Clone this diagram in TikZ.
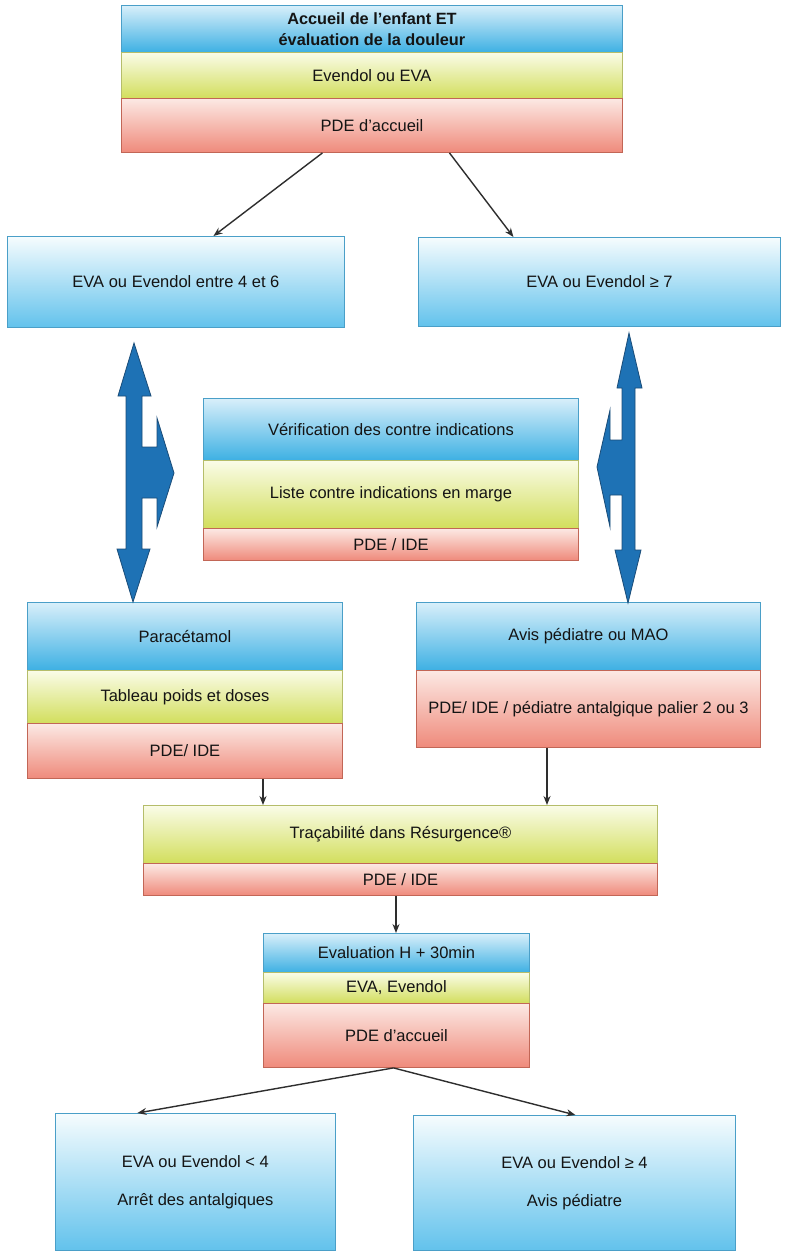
\documentclass[tikz,border=0pt]{standalone}
\usepackage{fontspec}
\setmainfont{Liberation Sans}
\usetikzlibrary{arrows.meta}
\definecolor{blueT}{HTML}{D8EFFA}
\definecolor{blueB}{HTML}{3DB0E3}
\definecolor{boxT}{HTML}{F6FCFE}
\definecolor{boxB}{HTML}{62C2EC}
\definecolor{greenT}{HTML}{FAFCE8}
\definecolor{greenB}{HTML}{D2DE5C}
\definecolor{redT}{HTML}{FCE9E4}
\definecolor{redB}{HTML}{EF8A7B}
\definecolor{blueBd}{HTML}{4A9FC8}
\definecolor{greenBd}{HTML}{B5BD6A}
\definecolor{redBd}{HTML}{C26656}
\definecolor{arrFill}{HTML}{1E72B5}
\definecolor{arrDraw}{HTML}{1A4C78}
\definecolor{lineC}{HTML}{2E2E2E}
\tikzset{
  band/.style={rectangle, anchor=north west, inner sep=0pt, align=center,
    font=\fontsize{16.5}{20}\selectfont, text=black!92, line width=0.9pt},
  bluebandst/.style={band, draw=blueBd, top color=blueT, bottom color=blueB},
  greenbandst/.style={band, draw=greenBd, top color=greenT, bottom color=greenB},
  redbandst/.style={band, draw=redBd, top color=redT, bottom color=redB},
  boxst/.style={band, draw=blueBd, top color=boxT, bottom color=boxB},
  conn/.style={draw=lineC, line width=1.4pt, -{Stealth[length=9pt,width=7pt]}},
  bigarrow/.style={fill=arrFill, draw=arrDraw, line width=0.8pt, line join=miter}
}
\begin{document}
\begin{tikzpicture}[x=1pt,y=-1pt]
\useasboundingbox (0,0) rectangle (790,1253);
\fill[white] (0,0) rectangle (790,1253);

% top stack
\node[bluebandst, minimum width=501pt, minimum height=47pt, font=\bfseries\fontsize{16.3}{20.5}\selectfont] (t1) at (121,5) {Accueil de l’enfant ET\\évaluation de la douleur};
\node[greenbandst, minimum width=501pt, minimum height=46pt] (t2) at (121,52) {Evendol ou EVA};
\node[redbandst, minimum width=501pt, minimum height=54pt] (t3) at (121,98) {PDE d’accueil};

% level 2 boxes
\node[boxst, minimum width=337pt, minimum height=91pt] (l1) at (7,236) {EVA ou Evendol entre 4 et 6};
\node[boxst, minimum width=362pt, minimum height=89pt] (r1) at (418,237) {EVA ou Evendol ≥ 7};

\draw[conn] ([xshift=-49.5pt]t3.south) -- ([xshift=37.5pt]l1.north);
\draw[conn] ([xshift=77.5pt]t3.south) -- ([xshift=-86pt]r1.north);

% middle stack
\node[bluebandst, minimum width=375pt, minimum height=62pt] (m1) at (203,398) {Vérification des contre indications};
\node[greenbandst, minimum width=375pt, minimum height=68pt] (m2) at (203,460) {Liste contre indications en marge};
\node[redbandst, minimum width=375pt, minimum height=32pt] (m3) at (203,528) {PDE / IDE};

% left stack
\node[bluebandst, minimum width=315pt, minimum height=68pt] (p1) at (27,602) {Paracétamol};
\node[greenbandst, minimum width=315pt, minimum height=53pt] (p2) at (27,670) {Tableau poids et doses};
\node[redbandst, minimum width=315pt, minimum height=55pt] (p3) at (27,723) {PDE/ IDE};

% right stack
\node[bluebandst, minimum width=344pt, minimum height=68pt] (a1) at (416,602) {Avis pédiatre ou MAO};
\node[redbandst, minimum width=344pt, minimum height=77pt] (a2) at (416,670) {PDE/ IDE / pédiatre antalgique palier 2 ou 3};

% big double arrows
\draw[bigarrow] (134,343) -- (151,396) -- (142,396) -- (142,447) -- (157,447) -- (157,418)
  -- (174,473) -- (157,527) -- (157,498) -- (142,498) -- (142,549) -- (150,549)
  -- (133,602) -- (117,549) -- (126,549) -- (126,396) -- (118,396) -- cycle;
\draw[bigarrow] (629,333) -- (642,388) -- (635,388) -- (635,550) -- (641,550)
  -- (628,603) -- (615,550) -- (622,550) -- (622,495) -- (610,495) -- (610,527)
  -- (597,467) -- (610,410) -- (610,440) -- (622,440) -- (622,388) -- (617,388) -- cycle;

% tracabilite
\node[greenbandst, minimum width=514pt, minimum height=58pt] (tr1) at (143,805) {Traçabilité dans Résurgence®};
\node[redbandst, minimum width=514pt, minimum height=32pt] (tr2) at (143,863) {PDE / IDE};

\draw[conn] (p3.south -| 263,0) -- (tr1.north -| 263,0);
\draw[conn] (a2.south -| 547,0) -- (tr1.north -| 547,0);

% evaluation
\node[bluebandst, minimum width=266pt, minimum height=39pt] (e1) at (263,933) {Evaluation H + 30min};
\node[greenbandst, minimum width=266pt, minimum height=31pt] (e2) at (263,972) {EVA, Evendol};
\node[redbandst, minimum width=266pt, minimum height=64pt] (e3) at (263,1003) {PDE d’accueil};

\draw[conn] (tr2.south -| 396,0) -- (e1.north -| 396,0);

% bottom boxes
\node[boxst, minimum width=280pt, minimum height=137pt, font=\fontsize{16.5}{38}\selectfont] (b1) at (55,1113) {EVA ou Evendol < 4\\Arrêt des antalgiques};
\node[boxst, minimum width=322pt, minimum height=135pt, font=\fontsize{16.5}{38}\selectfont] (b2) at (413,1115) {EVA ou Evendol ≥ 4\\Avis pédiatre};

\draw[conn] ([xshift=-3pt]e3.south) -- ([xshift=-58pt]b1.north);
\draw[conn] ([xshift=-3pt]e3.south) -- ([xshift=1pt]b2.north);
\end{tikzpicture}
\end{document}
